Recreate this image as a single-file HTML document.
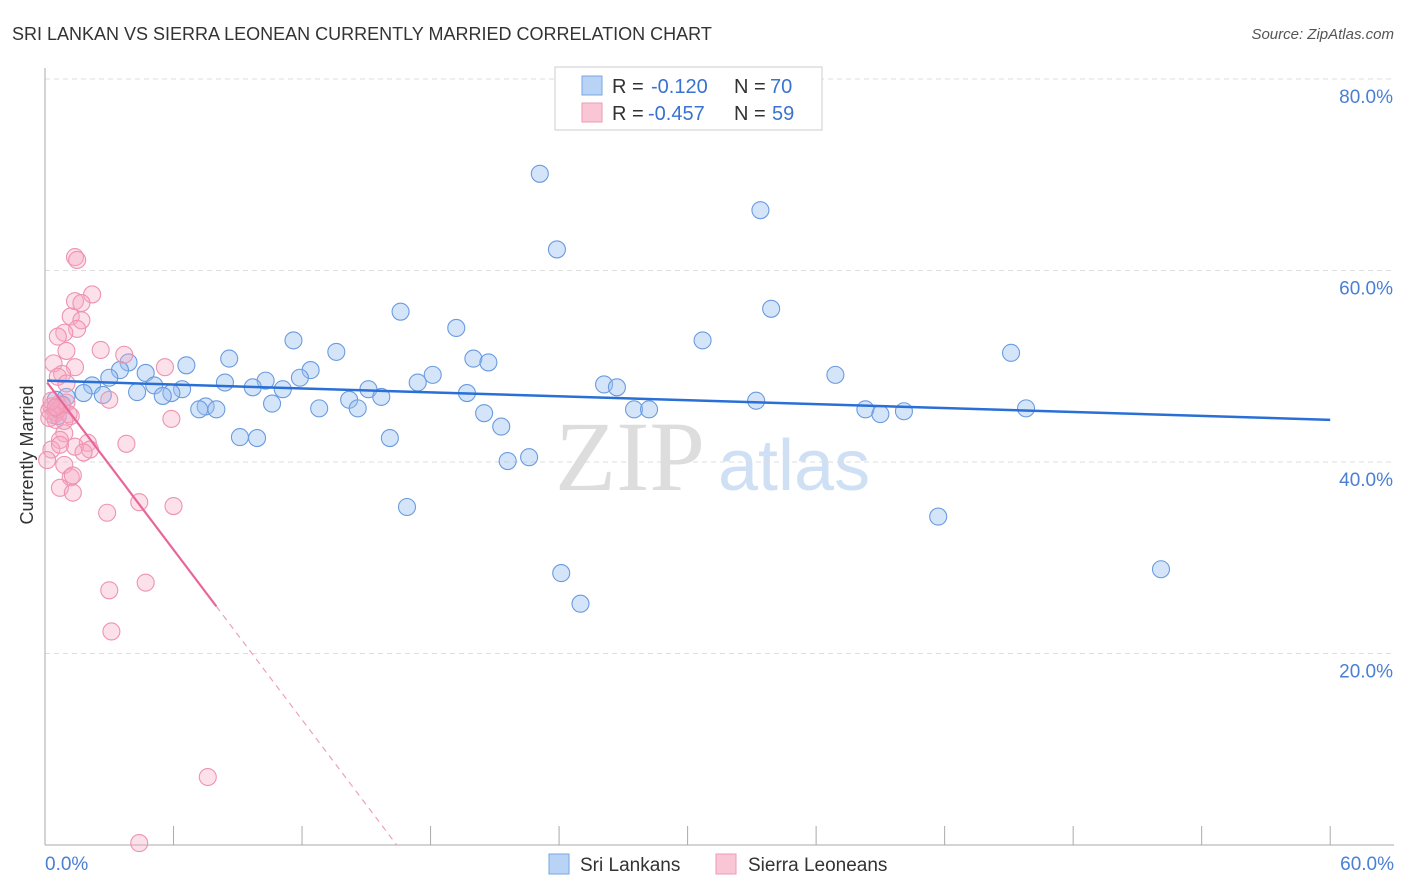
<!DOCTYPE html>
<html><head><meta charset="utf-8"><style>
body{margin:0;background:#fff;font-family:"Liberation Sans",sans-serif;}
svg{display:block}
</style></head><body>
<svg id="c" width="1406" height="892" xmlns="http://www.w3.org/2000/svg">
<text x="12" y="40" font-size="18" fill="#333">SRI LANKAN VS SIERRA LEONEAN CURRENTLY MARRIED CORRELATION CHART</text>
<text x="1394" y="39" font-size="15" fill="#555" text-anchor="end" font-style="italic">Source: ZipAtlas.com</text>
<text x="33" y="455" font-size="18" fill="#333" text-anchor="middle" transform="rotate(-90 33 455)">Currently Married</text>
<text x="555" y="490" font-size="100" fill="#ddd" font-family="Liberation Serif,serif">ZIP</text>
<text x="718" y="490" font-size="72" fill="#cfe0f5">atlas</text>
<g id="grid"></g><g id="pts"></g><g id="lines"></g>
<g>
<rect x="555" y="67" width="267" height="63" fill="#fff" stroke="#ccc"/>
<rect x="582" y="76" width="20" height="19" fill="#b8d3f5" stroke="#7aa7e0"/>
<rect x="582" y="103" width="20" height="19" fill="#f9c6d5" stroke="#ee9ab3"/>
<text x="612" y="93" font-size="20" fill="#333">R =</text>
<text x="651" y="93" font-size="20" fill="#3a72d0">-0.120</text>
<text x="734" y="93" font-size="20" fill="#333">N =</text>
<text x="770" y="93" font-size="20" fill="#3a72d0">70</text>
<text x="612" y="120" font-size="20" fill="#333">R =</text>
<text x="648" y="120" font-size="20" fill="#3a72d0">-0.457</text>
<text x="734" y="120" font-size="20" fill="#333">N =</text>
<text x="772" y="120" font-size="20" fill="#3a72d0">59</text>
</g>
<g>
<rect x="549" y="854" width="20" height="20" fill="#b8d3f5" stroke="#7aa7e0"/>
<text x="580" y="871" font-size="19" fill="#333">Sri Lankans</text>
<rect x="716" y="854" width="20" height="20" fill="#f9c6d5" stroke="#ee9ab3"/>
<text x="748" y="871" font-size="19" fill="#333">Sierra Leoneans</text>
</g>
</svg>
<script>
const xTicks=[0,6,12,18,24,30,36,42,48,54,60];
const yTicks=[20,40,60,80];
const blueX=[23.1,33.4,23.9,33.9,16.6,19.2,30.7,11.6,45.1,13.6,8.6,20.0,20.7,3.9,6.6,4.7,3.5,12.4,18.1,36.9,3.0,11.9,10.3,8.4,17.4,26.1,26.7,5.1,2.2,6.4,9.7,11.1,15.1,19.7,4.3,5.9,1.8,2.7,5.5,1.0,14.2,15.7,33.2,10.6,0.5,7.5,7.2,8.0,12.8,14.6,27.5,28.2,38.3,45.8,40.1,39.0,20.5,0.8,21.3,9.1,9.9,16.1,22.6,21.6,16.9,41.7,24.1,52.1,25.0,0.6];
const blueY=[70.1,66.3,62.2,56.0,55.7,54.0,52.7,52.7,51.4,51.5,50.8,50.8,50.4,50.4,50.1,49.3,49.6,49.6,49.1,49.1,48.8,48.8,48.5,48.3,48.3,48.1,47.8,48.0,48.0,47.6,47.8,47.6,47.6,47.2,47.3,47.2,47.2,47.0,46.9,46.8,46.5,46.8,46.4,46.1,46.5,45.8,45.5,45.5,45.6,45.6,45.5,45.5,45.5,45.6,45.3,45.0,45.1,46.0,43.7,42.6,42.5,42.5,40.5,40.1,35.3,34.3,28.4,28.8,25.2,44.8];
const pinkX=[1.4,1.5,2.2,1.4,1.7,1.2,1.7,1.5,0.9,0.6,2.6,1.0,3.7,0.4,5.6,1.4,0.8,0.6,1.0,3.0,0.6,0.2,1.2,0.5,5.9,0.9,0.7,2.0,3.8,1.4,0.3,2.1,1.8,0.1,0.9,1.2,0.7,1.3,4.4,6.0,2.9,4.7,3.0,3.1,7.6,4.4,1.3,0.3,0.5,0.8,0.4,0.6,1.0,0.2,0.7,0.3,1.1,0.5,0.9];
const pinkY=[61.4,61.1,57.5,56.8,56.6,55.2,54.8,53.9,53.5,53.1,51.7,51.6,51.2,50.3,49.9,49.9,49.2,48.9,48.2,46.5,46.0,45.4,44.8,44.4,44.5,43.0,42.3,42.0,41.9,41.6,41.3,41.3,41.0,40.2,39.7,38.4,37.3,36.8,35.8,35.4,34.7,27.4,26.6,22.3,7.1,0.2,38.6,45.8,45.2,45.9,44.9,45.5,46.2,44.6,41.8,46.4,45.0,45.7,44.3];
const blueTrend=[48.5,-0.0683];
const pinkTrend=[48.6,-2.96];
const pinkSolidEnd=8.0;
const X=v=>45+v*21.42, Y=v=>845-v*9.575;
const NS="http://www.w3.org/2000/svg";
function mk(t,a,p){const e=document.createElementNS(NS,t);for(const k in a)e.setAttribute(k,a[k]);p.appendChild(e);return e;}
const g=document.getElementById('grid');
yTicks.forEach(t=>{
 const l=mk('line',{x1:45,x2:1394,y1:Y(t),y2:Y(t),stroke:'#ddd','stroke-dasharray':'5,4'},g);
 
 
 const tx=mk('text',{x:1393,y:Y(t)+24,'font-size':19,fill:'#4a7fd4','text-anchor':'end'},g);tx.textContent=t.toFixed(1)+'%';
 
 
});
mk('line',{x1:45,x2:45,y1:68,y2:845,stroke:'#aaa'},g);
mk('line',{x1:45,x2:1394,y1:845,y2:845,stroke:'#aaa'},g);
xTicks.forEach(t=>{
 const l=mk('line',{x1:X(t),x2:X(t),y1:826,y2:845,stroke:'#aaa'},g);
 
 
});
[[0,'start',45],[60,'end',1394]].forEach(([t,a,x])=>{
 const tx=mk('text',{x:x,y:870,'font-size':19,fill:'#4a7fd4','text-anchor':a},g);tx.textContent=t.toFixed(1)+'%';
 
 
});
const p=document.getElementById('pts');
blueX.forEach((v,i)=>{
 const c=mk('circle',{cx:X(v),cy:Y(blueY[i]),r:8.5,fill:'rgba(150,190,240,0.4)',stroke:'#6a9be0','stroke-width':1.1},p);
 
 
});
pinkX.forEach((v,i)=>{
 const c=mk('circle',{cx:X(v),cy:Y(pinkY[i]),r:8.5,fill:'rgba(245,170,195,0.35)',stroke:'#ee93b0','stroke-width':1.1},p);
 
 
});
const L=document.getElementById('lines');
const f=(tr,x)=>tr[0]+tr[1]*x;
let b=mk('line',{x1:X(0.1),y1:Y(f(blueTrend,0.1)),x2:X(60),y2:Y(f(blueTrend,60)),stroke:'#2a6fd6','stroke-width':2.5},L);


let ps=mk('line',{x1:X(0.1),y1:Y(f(pinkTrend,0.1)),x2:X(pinkSolidEnd),y2:Y(f(pinkTrend,pinkSolidEnd)),stroke:'#e8659a','stroke-width':2.2},L);


const z=-pinkTrend[0]/pinkTrend[1];
let pd=mk('line',{x1:X(pinkSolidEnd),y1:Y(f(pinkTrend,pinkSolidEnd)),x2:X(z),y2:Y(0),stroke:'#eea0bb','stroke-width':1.2,'stroke-dasharray':'6,5'},L);


</script>
</body></html>
